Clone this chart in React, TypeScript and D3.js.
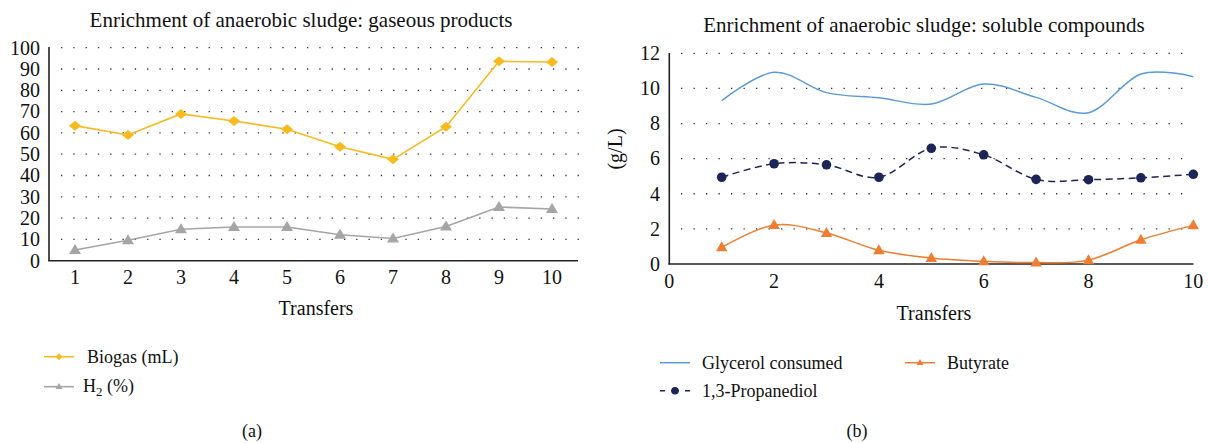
import React from "react";
import * as d3 from "d3";

const transfers = [1, 2, 3, 4, 5, 6, 7, 8, 9, 10];
const biogas = [63.4, 59.0, 68.9, 65.6, 61.7, 53.5, 47.6, 62.9, 93.6, 93.3];
const h2 = [5.0, 9.6, 14.8, 15.8, 15.8, 12.2, 10.4, 16.1, 25.2, 24.3];
const leftTicks = [0, 10, 20, 30, 40, 50, 60, 70, 80, 90, 100];

const glycerol = [9.3, 10.92, 9.76, 9.47, 9.11, 10.25, 9.49, 8.62, 10.82, 10.67];
const propanediol = [4.94, 5.71, 5.65, 4.94, 6.59, 6.22, 4.82, 4.8, 4.91, 5.11];
const butyrate = [0.95, 2.22, 1.77, 0.78, 0.34, 0.15, 0.08, 0.22, 1.38, 2.2];
const rightYTicks = [0, 2, 4, 6, 8, 10, 12];
const rightXTicks = [0, 2, 4, 6, 8, 10];

const FONT = "'Liberation Serif', 'DejaVu Serif', serif";
const YELLOW = "#F7BA1F";
const GREY = "#A5A5A5";
const BLUE = "#5B9BD5";
const NAVY = "#1C2556";
const ORANGE = "#ED7D31";

const diamond = (cx: number, cy: number, w: number, h: number) =>
  `M${cx},${cy - h / 2}L${cx + w / 2},${cy}L${cx},${cy + h / 2}L${cx - w / 2},${cy}Z`;
const tri = (cx: number, cy: number, w: number, h: number) =>
  `M${cx},${cy - h * 0.6}L${cx + w / 2},${cy + h * 0.4}L${cx - w / 2},${cy + h * 0.4}Z`;

export default function App() {
  // Left chart scales
  const lx = d3.scaleBand<number>().domain(transfers).range([48.5, 578.5]);
  const lxc = (d: number) => (lx(d) as number) + lx.bandwidth() / 2;
  const ly = d3.scaleLinear().domain([0, 100]).range([260.7, 47.7]);
  const lLine = d3
    .line<number>()
    .x((_, i) => lxc(transfers[i]))
    .y((d) => ly(d));

  // Right chart scales
  const rx = d3.scaleLinear().domain([0, 10]).range([669.3, 1193.3]);
  const ry = d3.scaleLinear().domain([0, 12]).range([264, 53.3]);
  const rLine = d3
    .line<number>()
    .x((_, i) => rx(transfers[i]))
    .y((d) => ry(d))
    .curve(d3.curveCatmullRom.alpha(0));

  const fs = 20;
  const tfs = 21;
  const lfs = 18;

  return (
    <svg
      width={1208}
      height={443}
      style={{ position: "absolute", left: 0, top: 0, background: "#fff" }}
      fontFamily={FONT}
    >
      <rect width={1208} height={443} fill="#fff" />
      {/* ---------- Left chart ---------- */}
      <text x={301} y={27} fontSize={tfs} textAnchor="middle" fill="#111">
        Enrichment of anaerobic sludge: gaseous products
      </text>
      {leftTicks
        .filter((t) => t > 0)
        .map((t) => (
          <line
            key={"lg" + t}
            x1={61}
            x2={579}
            y1={ly(t)}
            y2={ly(t)}
            stroke="#333"
            strokeWidth={1.3}
            strokeDasharray="1.3,11"
          />
        ))}
      {leftTicks.map((t) => (
        <text key={"lyt" + t} x={40} y={ly(t) + 6.8} fontSize={fs} textAnchor="end" fill="#111">
          {t}
        </text>
      ))}
      {transfers.map((t) => (
        <text key={"lxt" + t} x={lxc(t)} y={284} fontSize={fs} textAnchor="middle" fill="#111">
          {t}
        </text>
      ))}
      <line x1={49} x2={49} y1={47} y2={261} stroke="#222" strokeWidth={1.6} />
      <line x1={48.2} x2={578} y1={260.7} y2={260.7} stroke="#222" strokeWidth={1.6} />
      <text x={316} y={315} fontSize={fs} textAnchor="middle" fill="#111">
        Transfers
      </text>
      <path d={lLine(h2) || ""} fill="none" stroke={GREY} strokeWidth={1.6} />
      {h2.map((v, i) => (
        <path key={"h2m" + i} d={tri(lxc(transfers[i]), ly(v), 12, 10)} fill={GREY} />
      ))}
      <path d={lLine(biogas) || ""} fill="none" stroke={YELLOW} strokeWidth={1.6} />
      {biogas.map((v, i) => (
        <path key={"bm" + i} d={diamond(lxc(transfers[i]), ly(v), 12, 10)} fill={YELLOW} />
      ))}
      {/* left legend */}
      <line x1={44} x2={74} y1={356.7} y2={356.7} stroke={YELLOW} strokeWidth={1.6} />
      <path d={diamond(59, 356.7, 7, 7)} fill={YELLOW} />
      <text x={87} y={363} fontSize={lfs} fill="#111">
        Biogas (mL)
      </text>
      <line x1={44} x2={74} y1={386.7} y2={386.7} stroke={GREY} strokeWidth={1.6} />
      <path d={tri(59, 386.7, 7, 6)} fill={GREY} />
      <text x={83} y={392} fontSize={lfs} fill="#111">
        H<tspan fontSize={13} dy={4}>2</tspan>
        <tspan dy={-4}> (%)</tspan>
      </text>
      <text x={252} y={437} fontSize={lfs} textAnchor="middle" fill="#111">
        (a)
      </text>

      {/* ---------- Right chart ---------- */}
      <text x={924} y={31.5} fontSize={tfs} textAnchor="middle" fill="#111">
        Enrichment of anaerobic sludge: soluble compounds
      </text>
      {rightYTicks
        .filter((t) => t > 0)
        .map((t) => (
          <line
            key={"rg" + t}
            x1={681}
            x2={1190}
            y1={ry(t)}
            y2={ry(t)}
            stroke="#333"
            strokeWidth={1.3}
            strokeDasharray="1.3,11.2"
          />
        ))}
      {rightYTicks.map((t) => (
        <text key={"ryt" + t} x={660} y={ry(t) + 6.8} fontSize={fs} textAnchor="end" fill="#111">
          {t}
        </text>
      ))}
      {rightXTicks.map((t) => (
        <text key={"rxt" + t} x={rx(t)} y={288} fontSize={fs} textAnchor="middle" fill="#111">
          {t}
        </text>
      ))}
      <line x1={669.3} x2={669.3} y1={53} y2={264.5} stroke="#222" strokeWidth={1.6} />
      <line x1={668.5} x2={1193.5} y1={264} y2={264} stroke="#222" strokeWidth={1.6} />
      <text
        transform={`translate(622,149) rotate(-90)`}
        fontSize={fs}
        textAnchor="middle"
        fill="#111"
      >
        (g/L)
      </text>
      <text x={934} y={320} fontSize={fs} textAnchor="middle" fill="#111">
        Transfers
      </text>
      <path d={rLine(glycerol) || ""} fill="none" stroke={BLUE} strokeWidth={1.5} />
      <path
        d={rLine(propanediol) || ""}
        fill="none"
        stroke={NAVY}
        strokeWidth={1.5}
        strokeDasharray="7,4.5"
      />
      {propanediol.map((v, i) => (
        <circle key={"pm" + i} cx={rx(transfers[i])} cy={ry(v)} r={4.8} fill={NAVY} />
      ))}
      <path d={rLine(butyrate) || ""} fill="none" stroke={ORANGE} strokeWidth={1.5} />
      {butyrate.map((v, i) => (
        <path key={"btm" + i} d={tri(rx(transfers[i]), ry(v), 11.5, 10)} fill={ORANGE} />
      ))}
      {/* right legend */}
      <line x1={660} x2={690} y1={362.7} y2={362.7} stroke={BLUE} strokeWidth={1.5} />
      <text x={702} y={369} fontSize={lfs} fill="#111">
        Glycerol consumed
      </text>
      <line x1={660} x2={690} y1={390.7} y2={390.7} stroke={NAVY} strokeWidth={1.5} strokeDasharray="5,6,8,6,5" />
      <circle cx={675} cy={390.7} r={3.8} fill={NAVY} />
      <text x={702} y={397} fontSize={lfs} fill="#111">
        1,3-Propanediol
      </text>
      <line x1={905} x2={935} y1={362.7} y2={362.7} stroke={ORANGE} strokeWidth={1.5} />
      <path d={tri(920, 362.7, 7, 6)} fill={ORANGE} />
      <text x={947} y={369} fontSize={lfs} fill="#111">
        Butyrate
      </text>
      <text x={857} y={437} fontSize={lfs} textAnchor="middle" fill="#111">
        (b)
      </text>
    </svg>
  );
}
